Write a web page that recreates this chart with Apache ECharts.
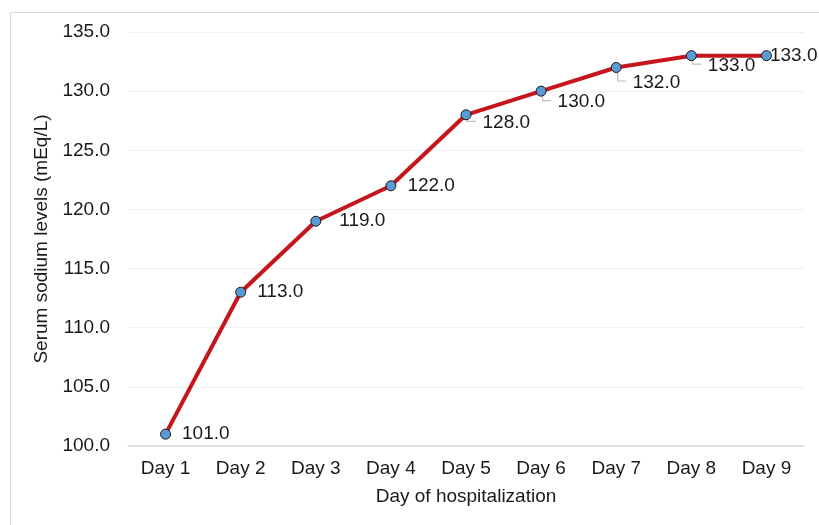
<!DOCTYPE html>
<html>
<head>
<meta charset="utf-8">
<script src="https://cdn.jsdelivr.net/npm/echarts@6/dist/echarts.min.js"></script>
<style>
  html, body { margin: 0; padding: 0; background: #fff; }
  #chart { width: 819px; height: 525px; }
</style>
</head>
<body>
<div id="chart"></div>
<script>
// Daily serum sodium during hospitalization
const days = ['Day 1', 'Day 2', 'Day 3', 'Day 4', 'Day 5', 'Day 6', 'Day 7', 'Day 8', 'Day 9'];
const sodium = [101, 113, 119, 122, 128, 130, 132, 133, 133];
const yTicks = [100, 105, 110, 115, 120, 125, 130, 135];

// label placement per point: extra right shift and drop below the point (px)
const labelShift = [
  { dx: 0, dy: 0 }, { dx: 0, dy: 0 }, { dx: 7, dy: 0 }, { dx: 0, dy: 0 },
  { dx: 0, dy: 8 }, { dx: 0, dy: 11 }, { dx: 0, dy: 15 }, { dx: 0, dy: 10 },
  { dx: -13, dy: 0 }
];
// points whose labels get a small elbow leader line
const leaderIdx = [4, 5, 6, 7];

const chart = echarts.init(document.getElementById('chart'), null, { renderer: 'canvas' });
const fontFamily = '"Liberation Sans", Arial, sans-serif';
const textColor = '#1a1a1a';
const fontSize = 19;

chart.setOption({
  animation: false,
  backgroundColor: '#fff',
  graphic: [{
    type: 'polyline',
    shape: { points: [[10.5, 530], [10.5, 12.5], [830, 12.5]] },
    style: { stroke: '#d9d9d9', lineWidth: 1, fill: null },
    silent: true
  }],
  grid: { left: 128, right: 15, top: 32, bottom: 79 },
  xAxis: {
    type: 'category',
    data: days,
    boundaryGap: true,
    name: 'Day of hospitalization',
    nameLocation: 'middle',
    nameGap: 41,
    nameTextStyle: { fontSize, color: textColor, fontFamily },
    axisLine: { lineStyle: { color: '#d9d9d9', width: 1.5 } },
    axisTick: { show: false },
    axisLabel: { fontSize, color: textColor, fontFamily, margin: 13 }
  },
  yAxis: {
    type: 'value',
    min: yTicks[0],
    max: yTicks[yTicks.length - 1],
    interval: 5,
    name: 'Serum sodium levels (mEq/L)',
    nameLocation: 'middle',
    nameGap: 71,
    nameTextStyle: { fontSize, color: textColor, fontFamily },
    axisLine: { show: false },
    axisTick: { show: false },
    splitLine: { lineStyle: { color: '#f0f0f0', width: 1 } },
    axisLabel: {
      fontSize, color: textColor, fontFamily, margin: 18,
      formatter: v => v.toFixed(1)
    }
  },
  series: [{
    type: 'line',
    data: sodium,
    symbol: 'circle',
    symbolSize: 10,
    lineStyle: { color: '#c4161c', width: 4 },
    itemStyle: { color: '#5b9bd5', borderColor: '#1a1a1a', borderWidth: 1 },
    label: {
      show: true,
      position: 'right',
      distance: 11,
      fontSize,
      color: textColor,
      fontFamily,
      formatter: p => p.value.toFixed(1)
    },
    labelLayout: params => labelShift[params.dataIndex],
    z: 3
  }, {
    // elbow leader lines from a point down and right to its label
    type: 'custom',
    data: leaderIdx.map(i => [i, sodium[i]]),
    z: 2,
    silent: true,
    renderItem: (params, api) => {
      const idx = leaderIdx[params.dataIndex];
      const p = api.coord([api.value(0), api.value(1)]);
      const y2 = p[1] + labelShift[idx].dy - 1.5;
      return {
        type: 'polyline',
        shape: { points: [[p[0] + 1.5, p[1] + 5], [p[0] + 1.5, y2], [p[0] + 10, y2]] },
        style: { stroke: '#bfbfbf', lineWidth: 1.2, fill: null }
      };
    }
  }]
});
</script>
</body>
</html>
